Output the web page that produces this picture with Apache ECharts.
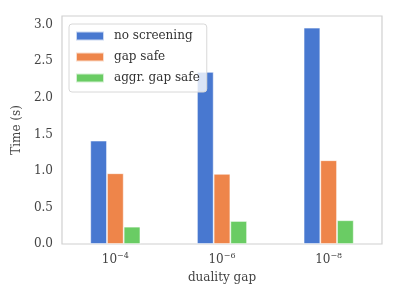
<!DOCTYPE html>
<html><head><meta charset="utf-8">
<script src="https://cdn.jsdelivr.net/npm/echarts@6/dist/echarts.min.js"></script>
<style>html,body{margin:0;padding:0;background:#fff}#c{width:399px;height:299px}</style>
</head><body><div id="c"></div>
<script>
const categories = ['−4', '−6', '−8'];
const seriesNames = ['no screening', 'gap safe', 'aggr. gap safe'];
const noScreening = [1.415, 2.355, 2.96];
const gapSafe = [0.968, 0.96, 1.146];
const aggrGapSafe = [0.237, 0.315, 0.325];
const yTicks = [0, 0.5, 1.0, 1.5, 2.0, 2.5, 3.0];

const colors = ['#4878d0', '#ee854a', '#6acc64'];
const FONT = 'DejaVu Serif';
const chart = echarts.init(document.getElementById('c'), null, {renderer: 'canvas'});
const data = [noScreening, gapSafe, aggrGapSafe];
chart.setOption({
  animation: false,
  textStyle: {fontFamily: FONT},
  grid: {left: 62, right: 17, top: 16, bottom: 55, show: true, borderColor: '#d0d0d0', borderWidth: 1.2, backgroundColor: 'transparent'},
  legend: {
    orient: 'vertical', left: 69, top: 24, itemWidth: 28, itemHeight: 9, itemGap: 9,
    padding: [6, 7, 8, 6],
    backgroundColor: 'rgba(255,255,255,0.8)', borderColor: '#d8d8d8', borderWidth: 1, borderRadius: 3,
    textStyle: {fontFamily: FONT, fontSize: 12, color: '#333', padding: [0, 0, 0, 5]},
    icon: 'rect',
    data: seriesNames
  },
  xAxis: {
    type: 'category', data: categories,
    name: 'duality gap', nameLocation: 'middle', nameGap: 28,
    nameTextStyle: {fontFamily: FONT, fontSize: 12, color: '#444'},
    axisLine: {show: false}, axisTick: {show: false},
    axisLabel: {
      interval: 0, margin: 8, color: '#444',
      formatter: v => '{b|10}{s|' + v + '}',
      rich: {b: {fontFamily: FONT, fontSize: 12, color: '#444'}, s: {fontFamily: FONT, fontSize: 8, color: '#444', padding: [0, 0, 7, 0]}}
    }
  },
  yAxis: {
    type: 'value', min: 0, max: 3.12, interval: 0.5,
    name: 'Time (s)', nameLocation: 'middle', nameGap: 31,
    nameTextStyle: {fontFamily: FONT, fontSize: 12, color: '#444'},
    axisLine: {show: false}, axisTick: {show: false}, splitLine: {show: false},
    axisLabel: {
      margin: 9, fontFamily: FONT, fontSize: 12, color: '#444',
      formatter: v => yTicks.some(t => Math.abs(t - v) < 1e-6) ? v.toFixed(1) : ''
    }
  },
  series: seriesNames.map((n, i) => ({
    name: n, type: 'bar', data: data[i], barWidth: 16.7, barGap: '0%',
    itemStyle: {color: colors[i], borderColor: 'rgba(255,255,255,0.7)', borderWidth: 0.8}
  }))
});
</script></body></html>
